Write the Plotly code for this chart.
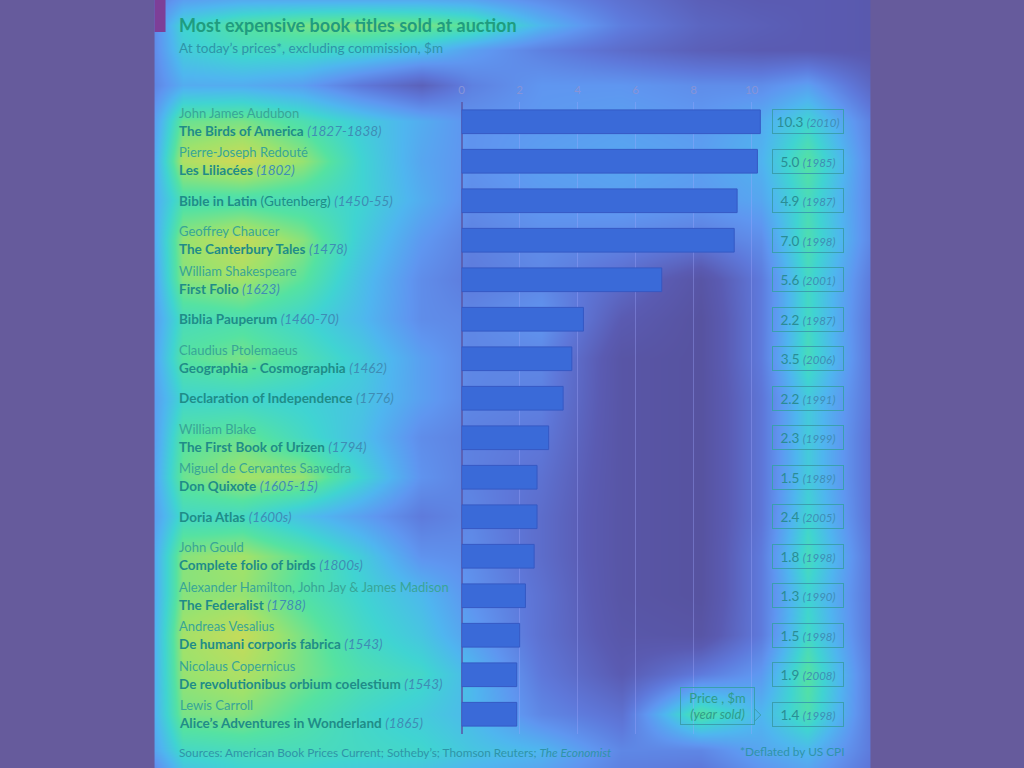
import plotly.graph_objects as go

# ---------------- chart data ----------------
authors = ["John James Audubon", "Pierre-Joseph Redouté", "", "Geoffrey Chaucer",
           "William Shakespeare", "", "Claudius Ptolemaeus", "", "William Blake",
           "Miguel de Cervantes Saavedra", "", "John Gould",
           "Alexander Hamilton, John Jay & James Madison", "Andreas Vesalius",
           "Nicolaus Copernicus", "Lewis Carroll"]
titles = ["The Birds of America", "Les Liliacées", "Bible in Latin", "The Canterbury Tales",
          "First Folio", "Biblia Pauperum", "Geographia - Cosmographia",
          "Declaration of Independence", "The First Book of Urizen", "Don Quixote",
          "Doria Atlas", "Complete folio of birds", "The Federalist",
          "De humani corporis fabrica", "De revolutionibus orbium coelestium",
          "Alice’s Adventures in Wonderland"]
title_notes = ["", "", "(Gutenberg)", "", "", "", "", "", "", "", "", "", "", "", "", ""]
dates = ["1827-1838", "1802", "1450-55", "1478", "1623", "1460-70", "1462", "1776",
         "1794", "1605-15", "1600s", "1800s", "1788", "1543", "1543", "1865"]
today_prices = [10.3, 10.2, 9.5, 9.4, 6.9, 4.2, 3.8, 3.5, 3.0, 2.6, 2.6, 2.5, 2.2, 2.0, 1.9, 1.9]
sale_prices = [10.3, 5.0, 4.9, 7.0, 5.6, 2.2, 3.5, 2.2, 2.3, 1.5, 2.4, 1.8, 1.3, 1.5, 1.9, 1.4]
sale_years = [2010, 1985, 1987, 1998, 2001, 1987, 2006, 1991, 1999, 1989, 2005, 1998, 1990, 1998, 2008, 1998]
x_ticks = [0, 2, 4, 6, 8, 10]

# ---------------- attention-overlay glow ----------------
glow_x = [152, 180, 240, 300, 360, 420, 470, 540, 620, 700, 760, 807, 870]
glow_y = [0, 25, 50, 85, 121, 161, 200, 240, 279, 319, 358, 398, 437, 477, 516, 556,
          595, 635, 674, 714, 750, 768]
glow_rows = [
    [0.28, 0.38, 0.42, 0.42, 0.42, 0.42, 0.40, 0.32, 0.22, 0.14, 0.12, 0.12, 0.10],
    [0.32, 0.55, 0.65, 0.70, 0.72, 0.70, 0.65, 0.45, 0.27, 0.17, 0.14, 0.12, 0.10],
    [0.32, 0.52, 0.58, 0.58, 0.55, 0.48, 0.38, 0.28, 0.20, 0.14, 0.12, 0.12, 0.10],
    [0.30, 0.42, 0.42, 0.38, 0.25, 0.15, 0.28, 0.35, 0.35, 0.32, 0.32, 0.38, 0.18],
    [0.38, 0.68, 0.70, 0.62, 0.52, 0.42, 0.34, 0.36, 0.38, 0.36, 0.42, 0.55, 0.28],
    [0.42, 0.78, 0.84, 0.74, 0.55, 0.40, 0.34, 0.38, 0.40, 0.38, 0.44, 0.65, 0.30],
    [0.42, 0.62, 0.62, 0.60, 0.55, 0.42, 0.32, 0.36, 0.38, 0.36, 0.40, 0.60, 0.30],
    [0.42, 0.74, 0.82, 0.72, 0.52, 0.36, 0.28, 0.32, 0.30, 0.26, 0.32, 0.62, 0.30],
    [0.40, 0.72, 0.76, 0.66, 0.48, 0.32, 0.26, 0.30, 0.20, 0.06, 0.26, 0.58, 0.26],
    [0.38, 0.60, 0.62, 0.56, 0.46, 0.32, 0.30, 0.35, 0.12, 0.03, 0.26, 0.58, 0.24],
    [0.40, 0.65, 0.70, 0.62, 0.52, 0.38, 0.30, 0.30, 0.06, 0.03, 0.26, 0.60, 0.24],
    [0.38, 0.56, 0.56, 0.54, 0.50, 0.38, 0.30, 0.28, 0.06, 0.03, 0.24, 0.52, 0.24],
    [0.38, 0.65, 0.68, 0.58, 0.48, 0.32, 0.28, 0.25, 0.06, 0.03, 0.24, 0.52, 0.22],
    [0.40, 0.68, 0.76, 0.74, 0.55, 0.34, 0.28, 0.22, 0.06, 0.03, 0.24, 0.52, 0.22],
    [0.38, 0.58, 0.58, 0.48, 0.38, 0.26, 0.30, 0.20, 0.06, 0.03, 0.24, 0.55, 0.22],
    [0.42, 0.72, 0.76, 0.66, 0.52, 0.34, 0.32, 0.20, 0.06, 0.03, 0.26, 0.60, 0.24],
    [0.42, 0.72, 0.74, 0.64, 0.55, 0.46, 0.34, 0.22, 0.06, 0.03, 0.26, 0.55, 0.24],
    [0.44, 0.76, 0.82, 0.70, 0.58, 0.50, 0.38, 0.22, 0.08, 0.06, 0.26, 0.58, 0.24],
    [0.44, 0.74, 0.78, 0.70, 0.62, 0.57, 0.46, 0.25, 0.12, 0.26, 0.36, 0.65, 0.26],
    [0.44, 0.70, 0.72, 0.64, 0.57, 0.52, 0.46, 0.30, 0.22, 0.65, 0.45, 0.62, 0.26],
    [0.40, 0.58, 0.60, 0.60, 0.58, 0.56, 0.50, 0.45, 0.30, 0.30, 0.40, 0.46, 0.26],
    [0.32, 0.50, 0.55, 0.55, 0.52, 0.50, 0.45, 0.40, 0.28, 0.25, 0.35, 0.40, 0.24],
]
glow_scale = [[0.0, "#56509a"], [0.12, "#5a5bb2"], [0.25, "#5e78da"], [0.35, "#5f96f0"],
              [0.45, "#4fb6ef"], [0.55, "#40d4d2"], [0.65, "#55e2a2"], [0.75, "#9ee26c"],
              [0.85, "#d6d852"], [1.0, "#e9a23e"]]

# ---------------- style ----------------
FONT = "Lato"
PAGE_BG = "#665b9c"
BAR = "#3a6ad8"
BAR_LINE = "#3559c4"
GRID = "rgba(160,170,255,0.35)"
TITLE_C = "#1f9c80"
SUB_C = "#2f94a8"
AUTHOR_C = "#38a597"
BOLD_C = "#1f8c88"
YEAR_C = "#3f8db5"
BOX_C = "#3a9fae"
TICK_C = "#8794d8"

W, H = 1024, 768
PLOT_L, PLOT_R, PLOT_T, PLOT_B = 460, 761, 102, 734   # pixel frame of the bar panel
TEXT_X = 175

cats = list(range(len(titles)))

fig = go.Figure()
# glow background in a pixel coordinate system (x/y axes)
fig.add_trace(go.Heatmap(
    x=glow_x, y=glow_y, z=glow_rows, zmin=0, zmax=1, zsmooth="best",
    colorscale=glow_scale, showscale=False, hoverinfo="skip", xaxis="x", yaxis="y"))
# the bars (x2/y2 axes)
fig.add_trace(go.Bar(
    x=today_prices, y=cats, orientation="h", width=0.6, xaxis="x2", yaxis="y2",
    marker=dict(color=BAR, line=dict(color=BAR_LINE, width=1)), hoverinfo="x"))

shapes = [
    dict(type="rect", xref="x", yref="y", x0=0, x1=152, y0=0, y1=768,
         fillcolor=PAGE_BG, line=dict(width=0), layer="above"),
    dict(type="rect", xref="x", yref="y", x0=870, x1=1024, y0=0, y1=768,
         fillcolor=PAGE_BG, line=dict(width=0), layer="above"),
    dict(type="rect", xref="x", yref="y", x0=152, x1=163, y0=0, y1=32,
         fillcolor="#7d3f98", line=dict(width=0), layer="above"),
    dict(type="path", xref="x", yref="y", path="M 754 709 L 760 715 L 754 721",
         line=dict(color=BOX_C, width=1), layer="above"),
]

annotations = [
    dict(text="<b>Most expensive book titles sold at auction</b>", xref="x", yref="y",
         x=TEXT_X, y=25, xanchor="left", yanchor="middle", showarrow=False,
         font=dict(family=FONT, size=18, color=TITLE_C)),
    dict(text="At today’s prices*, excluding commission, $m", xref="x", yref="y",
         x=TEXT_X, y=48, xanchor="left", yanchor="middle", showarrow=False,
         font=dict(family=FONT, size=13.5, color=SUB_C)),
    dict(text="Sources: American Book Prices Current; Sotheby’s; Thomson Reuters; <i>The Economist</i>",
         xref="x", yref="y", x=TEXT_X, y=752, xanchor="left", yanchor="middle",
         showarrow=False, font=dict(family=FONT, size=11.8, color=SUB_C)),
    dict(text="*Deflated by US CPI", xref="x", yref="y", x=846, y=751,
         xanchor="right", yanchor="middle", showarrow=False,
         font=dict(family=FONT, size=11.8, color=SUB_C)),
    dict(text="Price , $m<br><i>(year sold)</i>", xref="x", yref="y",
         x=717, y=706, xanchor="center", yanchor="middle", showarrow=False,
         width=71, height=34, bordercolor=BOX_C, borderwidth=1, borderpad=1,
         font=dict(family=FONT, size=13, color="#2f9c8c")),
]

for i in cats:
    line2 = f"<b>{titles[i]}</b>"
    if title_notes[i]:
        line2 += f" {title_notes[i]}"
    line2 += f" <i><span style='color:{YEAR_C}'>({dates[i]})</span></i>"
    if authors[i]:
        txt = f"<span style='color:{AUTHOR_C};font-size:13px'>{authors[i]}</span><br>{line2}"
    else:
        txt = line2
    annotations.append(dict(
        text=txt, xref="x", yref="y2", x=TEXT_X, y=i, xanchor="left", yanchor="middle",
        align="left", showarrow=False, font=dict(family=FONT, size=13.5, color=BOLD_C)))
    annotations.append(dict(
        text=f"{sale_prices[i]:.1f} <i><span style='font-size:11.5px;color:{YEAR_C}'>({sale_years[i]})</span></i>",
        xref="x", yref="y2", x=807, y=i, xanchor="center", yanchor="middle",
        showarrow=False, width=68, height=21, bordercolor=BOX_C, borderwidth=1, borderpad=1,
        font=dict(family=FONT, size=13.5, color="#2a8d95")))

fig.update_layout(
    width=W, height=H, autosize=False,
    margin=dict(l=0, r=0, t=0, b=0, pad=0),
    paper_bgcolor=PAGE_BG, plot_bgcolor="rgba(0,0,0,0)",
    showlegend=False, bargap=0.4,
    xaxis=dict(domain=[0, 1], range=[0, W], visible=False, fixedrange=True),
    yaxis=dict(domain=[0, 1], range=[H, 0], visible=False, fixedrange=True),
    xaxis2=dict(domain=[PLOT_L / W, PLOT_R / W], anchor="y2", range=[0, 10.35], side="top",
                tickvals=x_ticks, showgrid=True, gridcolor=GRID, gridwidth=1,
                zeroline=True, zerolinecolor="rgba(90,90,170,0.8)", zerolinewidth=2,
                ticks="", ticklabelstandoff=5,
                tickfont=dict(family=FONT, size=11.5, color=TICK_C), fixedrange=True),
    yaxis2=dict(domain=[(H - PLOT_B) / H, (H - PLOT_T) / H], anchor="x2",
                range=[15.5, -0.5], showticklabels=False, showgrid=False, zeroline=False,
                fixedrange=True),
    shapes=shapes, annotations=annotations,
)

fig.write_html("out.html", config={"displayModeBar": False},
               post_script="document.body.style.margin='0px';")
